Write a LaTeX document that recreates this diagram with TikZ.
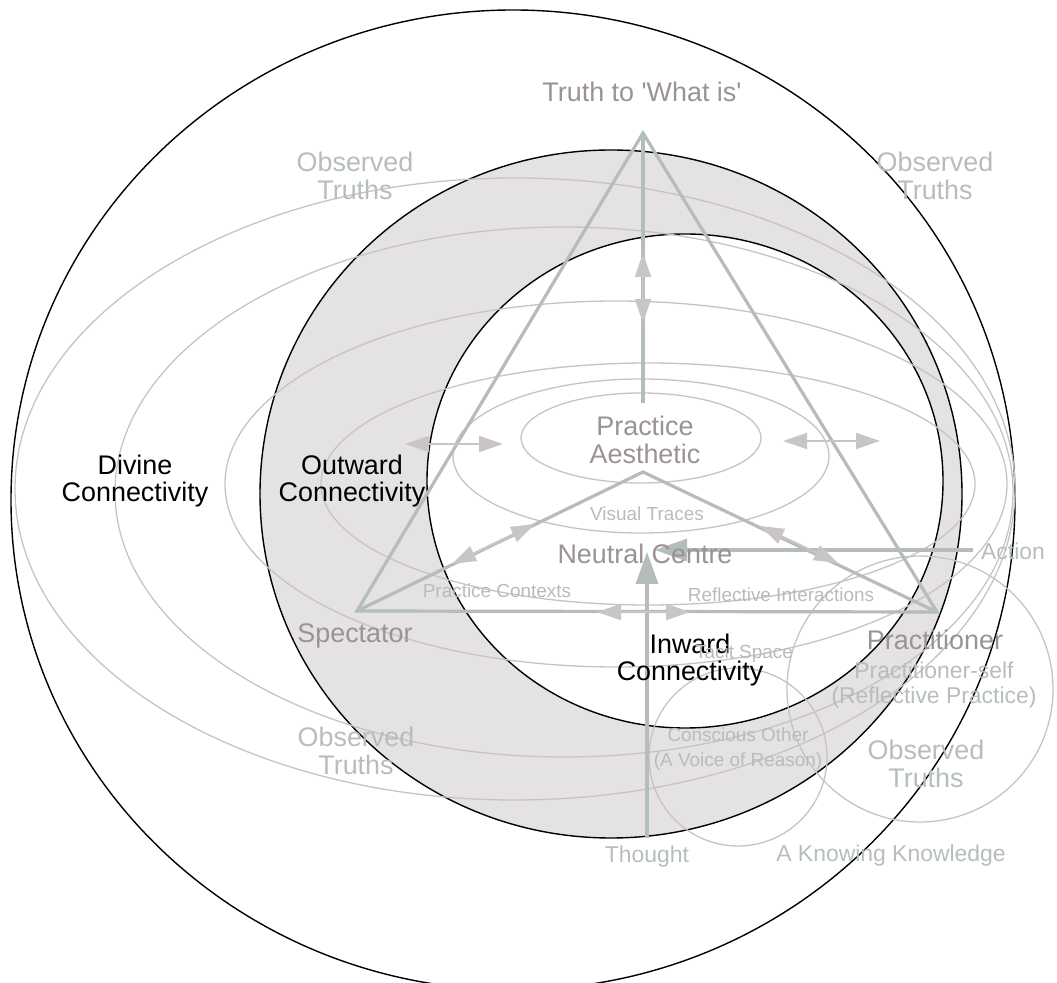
\documentclass[tikz,border=0pt]{standalone}
\usepackage{fontspec}
\setmainfont{Liberation Sans}[Ligatures=TeXOff]
\usetikzlibrary{arrows.meta}
\definecolor{traceclr}{HTML}{C8C3C3}
\definecolor{axisclr}{HTML}{B4BDB8}
\definecolor{headclr}{HTML}{C9C5C5}
\definecolor{ringclr}{HTML}{E4E2E3}
\definecolor{termclr}{HTML}{9B9393}
\definecolor{noteclr}{HTML}{B6BEB9}
\newcommand{\bigsize}{\fontsize{27}{28}\selectfont}
\newcommand{\midsize}{\fontsize{23}{25}\selectfont}
\newcommand{\smallsize}{\fontsize{19}{25}\selectfont}
\tikzset{
  ring/.style={draw=black,line width=1.4bp},
  trace/.style={draw=traceclr,line width=1.3bp},
  axis/.style={draw=axisclr,line width=3.2bp,line join=miter},
  twoway/.style={draw=headclr,line width=2bp,{Triangle[length=24bp,width=16bp]}-{Triangle[length=24bp,width=16bp]}},
  term/.style={text=termclr,font=\bigsize,align=center,inner sep=0pt},
  note/.style={text=noteclr,align=center,inner sep=0pt},
  realm/.style={text=black,font=\bigsize,align=center,inner sep=0pt}
}
\begin{document}
\begin{tikzpicture}[>={Triangle[length=32bp,width=22bp]},line join=bevel]
\useasboundingbox (0bp,0bp) rectangle (1057bp,983bp);
%%
\draw [ring] (513bp,483bp) ellipse [x radius=502bp,y radius=490bp];
\fill [ringclr] (611bp,489bp) ellipse [x radius=351bp,y radius=344bp];
\fill [white] (685bp,502bp) ellipse [x radius=258bp,y radius=247bp];
\draw [ring] (611bp,489bp) ellipse [x radius=351bp,y radius=344bp];
\draw [ring] (685bp,502bp) ellipse [x radius=258bp,y radius=247bp];
%
\draw [trace] (515bp,494bp) ellipse [x radius=500bp,y radius=311bp];
\draw [trace] (564bp,491bp) ellipse [x radius=449bp,y radius=265bp];
\draw [trace] (616bp,499bp) ellipse [x radius=391bp,y radius=183bp];
\draw [trace] (648bp,499bp) ellipse [x radius=327bp,y radius=121bp];
\draw [trace] (641bp,527bp) ellipse [x radius=188bp,y radius=77bp];
\draw [trace] (641bp,545bp) ellipse [x radius=120bp,y radius=45bp];
\draw [trace] (738bp,226bp) circle [radius=89bp];
\draw [trace] (920bp,294bp) circle [radius=133bp];
%
\coordinate (v_apex) at (643bp,850bp);
\coordinate (v_spec) at (357bp,372bp);
\coordinate (v_prac) at (937bp,371bp);
\coordinate (v_core) at (643bp,511bp);
\coordinate (axis_end) at (643bp,580bp);
\coordinate (thought_foot) at (647bp,145bp);
\coordinate (thought_tip) at (647bp,431bp);
\coordinate (action_foot) at (973bp,433bp);
\coordinate (action_tip) at (655bp,433bp);
\draw [axis] (v_spec) -- (v_apex) -- (v_prac) -- cycle;
\draw [axis] (v_spec) -- (v_core) -- (v_prac);
\draw [axis] (v_apex) -- (axis_end);
\draw [axis,->] (thought_foot) -- (thought_tip);
\draw [axis,->] (action_foot) -- (action_tip);
%
\coordinate (top_a) at (643bp,730bp);
\coordinate (top_b) at (643bp,660bp);
\coordinate (left_a) at (405bp,539bp);
\coordinate (left_b) at (503bp,539bp);
\coordinate (right_a) at (783bp,542bp);
\coordinate (right_b) at (880bp,542bp);
\coordinate (ctx_a) at (452bp,419bp);
\coordinate (ctx_b) at (535bp,459bp);
\coordinate (refl_a) at (760bp,457bp);
\coordinate (refl_b) at (838bp,420bp);
\coordinate (base_a) at (597bp,371bp);
\coordinate (base_b) at (690bp,371bp);
\draw [twoway] (top_a) -- (top_b);
\draw [twoway] (left_a) -- (left_b);
\draw [twoway] (right_a) -- (right_b);
\draw [twoway] (ctx_a) -- (ctx_b);
\draw [twoway] (refl_a) -- (refl_b);
\draw [twoway] (base_a) -- (base_b);
%
\node (node_truth) at (642bp,891bp) [term] {Truth to 'What is'};
\node (node_obs_tl) at (355bp,807bp) [note,font=\bigsize] {Observed\\Truths};
\node (node_obs_tr) at (935bp,807bp) [note,font=\bigsize] {Observed\\Truths};
\node (node_obs_bl) at (356bp,232bp) [note,font=\bigsize] {Observed\\Truths};
\node (node_obs_br) at (926bp,219bp) [note,font=\bigsize] {Observed\\Truths};
\node (node_divine) at (135bp,502bp) [realm] {Divine\\Connectivity};
\node (node_outward) at (352bp,502bp) [realm] {Outward\\Connectivity};
\node (node_inward) at (690bp,323bp) [realm] {Inward\\Connectivity};
\node (node_aesthetic) at (645bp,543bp) [term] {Practice\\Aesthetic};
\node (node_traces) at (647bp,469bp) [note,font=\smallsize] {Visual Traces};
\node (node_centre) at (645bp,429bp) [term] {Neutral Centre};
\node (node_contexts) at (497bp,392bp) [note,font=\smallsize] {Practice Contexts};
\node (node_reflect) at (781bp,388bp) [note,font=\smallsize] {Reflective Interactions};
\node (node_spectator) at (355bp,347bp) [term] {Spectator};
\node (node_practitioner) at (935bp,343bp) [term] {Practitioner};
\node (node_self) at (934bp,298bp) [note,font=\midsize] {Practitioner-self\\(Reflective Practice)};
\node (node_tacit) at (744bp,329bp) [note,font=\smallsize] {Tacit Space};
\node (node_action) at (1013bp,432bp) [note,font=\midsize] {Action};
\node (node_other) at (738bp,234bp) [note,font=\smallsize] {Conscious Other\\(A Voice of Reason)};
\node (node_thought) at (647bp,126bp) [note,font=\midsize] {Thought};
\node (node_knowing) at (891bp,127bp) [note,font=\midsize] {A Knowing Knowledge};
%
\end{tikzpicture}
\end{document}
